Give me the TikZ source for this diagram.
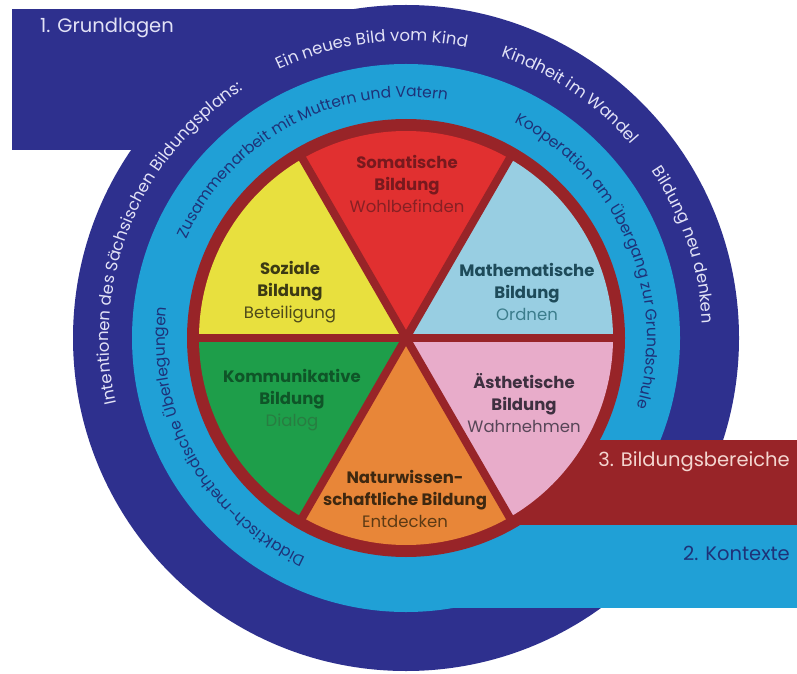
\documentclass[tikz,border=0pt]{standalone}
\usepackage{fontspec}
\setmainfont{Poppins}
\usepackage{tikz}
\usetikzlibrary{decorations.text}

\definecolor{grundblau}{RGB}{46,48,142}
\definecolor{kontextblau}{RGB}{32,160,214}
\definecolor{bereichrot}{RGB}{152,36,40}
\definecolor{somarot}{RGB}{225,48,48}
\definecolor{sozialgelb}{RGB}{232,224,62}
\definecolor{mathblau}{RGB}{152,206,226}
\definecolor{kommgruen}{RGB}{30,158,74}
\definecolor{naturorange}{RGB}{232,134,56}
\definecolor{aesthrosa}{RGB}{232,172,202}
\definecolor{hellschrift}{RGB}{226,226,246}
\definecolor{dunkelschrift}{RGB}{30,50,120}
\definecolor{rosaschrift}{RGB}{244,214,208}
\definecolor{somaschrift}{RGB}{120,25,30}
\definecolor{somahell}{RGB}{135,32,36}
\definecolor{sozialschrift}{RGB}{60,58,20}
\definecolor{sozialhell}{RGB}{78,74,26}
\definecolor{mathschrift}{RGB}{30,75,90}
\definecolor{mathhell}{RGB}{60,125,140}
\definecolor{kommschrift}{RGB}{15,85,40}
\definecolor{kommhell}{RGB}{40,125,65}
\definecolor{aesthschrift}{RGB}{62,48,64}
\definecolor{aesthhell}{RGB}{88,70,88}
\definecolor{naturschrift}{RGB}{62,40,16}
\definecolor{naturhell}{RGB}{92,58,20}

\tikzset{
	ringtext/.style={decorate, decoration={text along path, text align=center,
		text={|\fontsize{16.5}{17}\selectfont\color{hellschrift}|#1}}},
	kontexttext/.style={decorate, decoration={text along path, text align=center,
		text={|\fontsize{15.5}{16}\selectfont\color{dunkelschrift}|#1}}},
	bandtext/.style={font=\fontsize{19.5}{22}\selectfont, inner sep=0pt},
	bereich/.style={align=center, font=\fontsize{16.5}{22}\selectfont, inner sep=0pt},
}

\begin{document}
\begin{tikzpicture}[x=1pt, y=1pt]
	\useasboundingbox (0,0) rectangle (797,673);
	\fill[white] (0,0) rectangle (797,673);
	\coordinate (mitte) at (406,335);
	% 1. Grundlagen
	\fill[grundblau] (12,523) rectangle (406,664);
	\fill[grundblau] (mitte) circle [radius=333];
	% 2. Kontexte
	\fill[kontextblau] (406,65) rectangle (797,148);
	\fill[kontextblau] (mitte) circle [radius=274];
	% 3. Bildungsbereiche
	\fill[bereichrot] (406,148) rectangle (797,233);
	\fill[bereichrot] (mitte) circle [radius=219];
	\foreach \a/\farbe in {0/mathblau, 60/somarot, 120/sozialgelb, 180/kommgruen, 240/naturorange, 300/aesthrosa}
		\fill[\farbe] (mitte) -- ++(\a:207) arc [start angle=\a, end angle=\a+60, radius=207] -- cycle;
	\foreach \a in {0,60,...,300}
		\draw[bereichrot, line width=8pt] (mitte) -- ++(\a:209);

	\path[ringtext={Intentionen des Sächsischen Bildungsplans:}] (mitte) ++(218:297) arc [start angle=218, end angle=98, radius=297];
	\path[ringtext={Ein neues Bild vom Kind}] (mitte) ++(146.8:297) arc [start angle=146.8, end angle=46.8, radius=297];
	\path[ringtext={Kindheit im Wandel}] (mitte) ++(106:297) arc [start angle=106, end angle=6, radius=297];
	\path[ringtext={Bildung neu denken}] (mitte) ++(68.5:297) arc [start angle=68.5, end angle=-31.5, radius=297];

	\path[kontexttext={Zusammenarbeit mit Muttern und Vatern}] (mitte) ++(178:241) arc [start angle=178, end angle=58, radius=241];
	\path[kontexttext={Kooperation am Übergang zur Grundschule}] (mitte) ++(83.3:241) arc [start angle=83.3, end angle=-36.7, radius=241];
	\path[kontexttext={Didaktisch-methodische Überlegungen}] (mitte) ++(269:241) arc [start angle=269, end angle=149, radius=241];

	\node[bandtext, text=hellschrift, anchor=west] (grundlagen) at (40,645) {1. Grundlagen};
	\node[bandtext, text=rosaschrift, anchor=east] (bildungsbereiche) at (790,211) {3. Bildungsbereiche};
	\node[bandtext, text=dunkelschrift, anchor=east] (kontexte) at (790,120) {2. Kontexte};

	\node[bereich] (somatisch) at (407,489) {{\color{somaschrift}\bfseries Somatische}\\{\color{somaschrift}\bfseries Bildung}\\{\color{somahell}Wohlbefinden}};
	\node[bereich] (sozial) at (290,381) {{\color{sozialschrift}\bfseries Soziale}\\{\color{sozialschrift}\bfseries Bildung}\\{\color{sozialhell}Beteiligung}};
	\node[bereich] (mathematisch) at (527,381) {{\color{mathschrift}\bfseries Mathematische}\\{\color{mathschrift}\bfseries Bildung}\\{\color{mathhell}Ordnen}};
	\node[bereich] (kommunikativ) at (292,273) {{\color{kommschrift}\bfseries Kommunikative}\\{\color{kommschrift}\bfseries Bildung}\\{\color{kommhell}Dialog}};
	\node[bereich] (aesthetisch) at (524,270) {{\color{aesthschrift}\bfseries Ästhetische}\\{\color{aesthschrift}\bfseries Bildung}\\{\color{aesthhell}Wahrnehmen}};
	\node[bereich] (natur) at (405,174) {{\color{naturschrift}\bfseries Naturwissen-}\\{\color{naturschrift}\bfseries schaftliche Bildung}\\{\color{naturhell}Entdecken}};
\end{tikzpicture}
\end{document}
